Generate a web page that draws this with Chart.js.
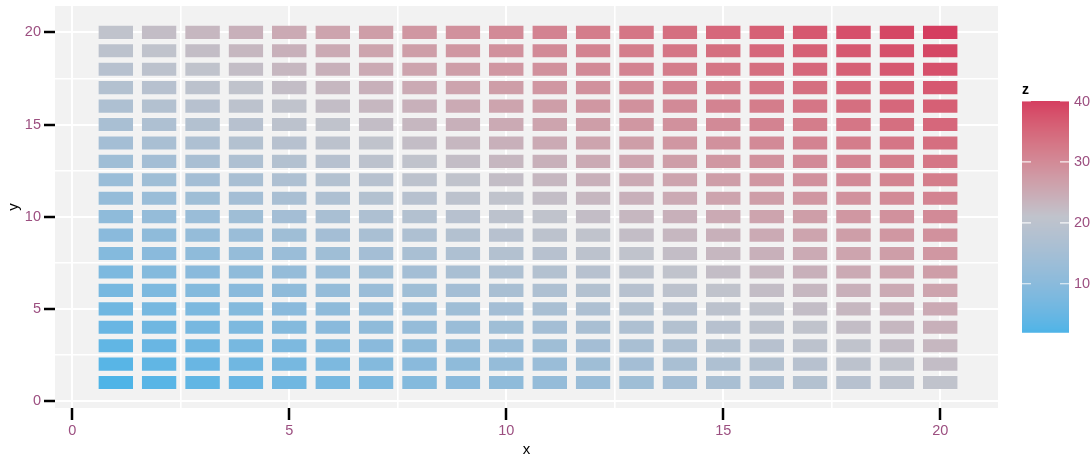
<!DOCTYPE html>
<html><head><meta charset="utf-8">
<script src="https://cdn.jsdelivr.net/npm/chart.js@4"></script>
<style>html,body{margin:0;padding:0;background:#fff}</style>
</head><body>
<canvas id="c" width="1092" height="457"></canvas>
<script>
const xValues = [1,2,3,4,5,6,7,8,9,10,11,12,13,14,15,16,17,18,19,20];
const yValues = [1,2,3,4,5,6,7,8,9,10,11,12,13,14,15,16,17,18,19,20];
// one row per y value, one entry per x value
const zValues = [
  [2,3,4,5,6,7,8,9,10,11,12,13,14,15,16,17,18,19,20,21],
  [3,4,5,6,7,8,9,10,11,12,13,14,15,16,17,18,19,20,21,22],
  [4,5,6,7,8,9,10,11,12,13,14,15,16,17,18,19,20,21,22,23],
  [5,6,7,8,9,10,11,12,13,14,15,16,17,18,19,20,21,22,23,24],
  [6,7,8,9,10,11,12,13,14,15,16,17,18,19,20,21,22,23,24,25],
  [7,8,9,10,11,12,13,14,15,16,17,18,19,20,21,22,23,24,25,26],
  [8,9,10,11,12,13,14,15,16,17,18,19,20,21,22,23,24,25,26,27],
  [9,10,11,12,13,14,15,16,17,18,19,20,21,22,23,24,25,26,27,28],
  [10,11,12,13,14,15,16,17,18,19,20,21,22,23,24,25,26,27,28,29],
  [11,12,13,14,15,16,17,18,19,20,21,22,23,24,25,26,27,28,29,30],
  [12,13,14,15,16,17,18,19,20,21,22,23,24,25,26,27,28,29,30,31],
  [13,14,15,16,17,18,19,20,21,22,23,24,25,26,27,28,29,30,31,32],
  [14,15,16,17,18,19,20,21,22,23,24,25,26,27,28,29,30,31,32,33],
  [15,16,17,18,19,20,21,22,23,24,25,26,27,28,29,30,31,32,33,34],
  [16,17,18,19,20,21,22,23,24,25,26,27,28,29,30,31,32,33,34,35],
  [17,18,19,20,21,22,23,24,25,26,27,28,29,30,31,32,33,34,35,36],
  [18,19,20,21,22,23,24,25,26,27,28,29,30,31,32,33,34,35,36,37],
  [19,20,21,22,23,24,25,26,27,28,29,30,31,32,33,34,35,36,37,38],
  [20,21,22,23,24,25,26,27,28,29,30,31,32,33,34,35,36,37,38,39],
  [21,22,23,24,25,26,27,28,29,30,31,32,33,34,35,36,37,38,39,40]
];
const xGridValues = [0,2.5,5,7.5,10,12.5,15,17.5,20];
const yGridValues = [0,2.5,5,7.5,10,12.5,15,17.5,20];
const xTickLabels = ['0','5','10','15','20'];
const yTickLabels = ['0','5','10','15','20'];
const legendTickValues = [10,20,30,40];
const legendTickLabels = ['10','20','30','40'];
const zLimits = [2,40];
const zMidpoint = 21;
const lowColour = '#4EB4E7', midColour = '#C0C3CC', highColour = '#D53D60';

// ---- Lab colour interpolation (like scales::div_gradient_pal) ----
function hex2rgb(h){h=h.replace('#','');return [0,2,4].map(i=>parseInt(h.substr(i,2),16)/255);}
function lin(c){return c<=0.04045?c/12.92:Math.pow((c+0.055)/1.055,2.4);}
function gam(c){c=c<=0.0031308?12.92*c:1.055*Math.pow(c,1/2.4)-0.055;return Math.max(0,Math.min(1,c));}
const WX=0.95047,WY=1,WZ=1.08883;
function rgb2lab(rgb){const [r,g,b]=rgb.map(lin);
  const X=(r*0.4124564+g*0.3575761+b*0.1804375)/WX,Y=(r*0.2126729+g*0.7151522+b*0.0721750)/WY,Z=(r*0.0193339+g*0.1191920+b*0.9503041)/WZ;
  const f=t=>t>0.008856?Math.cbrt(t):(7.787*t+16/116);
  const fx=f(X),fy=f(Y),fz=f(Z);return [116*fy-16,500*(fx-fy),200*(fy-fz)];}
function lab2rgb(lab){const fy=(lab[0]+16)/116,fx=fy+lab[1]/500,fz=fy-lab[2]/200;
  const fi=t=>t*t*t>0.008856?t*t*t:(t-16/116)/7.787;
  const X=fi(fx)*WX,Y=fi(fy)*WY,Z=fi(fz)*WZ;
  const r=X*3.2404542-Y*1.5371385-Z*0.4985314,g=-X*0.9692660+Y*1.8760108+Z*0.0415560,b=X*0.0556434-Y*0.2040259+Z*1.0572252;
  return [r,g,b].map(gam);}
const LOW=rgb2lab(hex2rgb(lowColour)),MID=rgb2lab(hex2rgb(midColour)),HIGH=rgb2lab(hex2rgb(highColour));
function colourFor(z){
  const span=Math.max(zMidpoint-zLimits[0],zLimits[1]-zMidpoint);
  let t=0.5+(z-zMidpoint)/(2*span);t=Math.max(0,Math.min(1,t));
  let a,b,u;if(t<0.5){a=LOW;b=MID;u=t/0.5;}else{a=MID;b=HIGH;u=(t-0.5)/0.5;}
  const lab=a.map((v,i)=>v+(b[i]-v)*u);const rgb=lab2rgb(lab);
  return 'rgb('+rgb.map(v=>Math.round(v*255)).join(',')+')';}

const FONT='"Liberation Sans", Arial, sans-serif';
const LABEL_COL='#9C4F80';

const datasets = yValues.map((yv,r)=>({
  data: xValues.map(xv=>({x:xv, y:[yv-0.41, yv+0.41]})),
  backgroundColor: zValues[r].map(colourFor),
  borderColor: 'rgba(255,255,255,0.18)',
  borderWidth: {top:1,bottom:1,left:0,right:0},
  borderSkipped: false,
  barPercentage: 0.8,
  categoryPercentage: 1,
  grouped: false
}));

const panelBg = {
  id:'panelBg',
  beforeDraw(chart){const {ctx,chartArea:a}=chart;ctx.save();ctx.fillStyle='#F2F2F2';
    ctx.fillRect(a.left,a.top,a.right-a.left,a.bottom-a.top);ctx.restore();}
};

const colourbar = {
  id:'colourbar',
  afterDraw(chart){
    const ctx=chart.ctx;const L=1022,R=1069,T=101,B=332.5;
    const pix=z=>T+(zLimits[1]-z)/(zLimits[1]-zLimits[0])*(B-T);
    ctx.save();
    for(let y=T;y<B;y+=1){const z=zLimits[1]-(y+0.5-T)/(B-T)*(zLimits[1]-zLimits[0]);
      ctx.fillStyle=colourFor(z);ctx.fillRect(L,y,R-L,Math.min(1,B-y)+0.2);}
    ctx.strokeStyle='rgba(255,255,255,0.85)';ctx.lineWidth=1.2;
    ctx.font='14.5px '+FONT;ctx.fillStyle=LABEL_COL;ctx.textAlign='left';ctx.textBaseline='middle';
    legendTickValues.forEach((v,i)=>{const y=pix(v);
      ctx.beginPath();ctx.moveTo(L,y);ctx.lineTo(L+9,y);ctx.moveTo(R-9,y);ctx.lineTo(R,y);ctx.stroke();
      ctx.fillText(legendTickLabels[i],1074,y+0.5);});
    ctx.fillStyle='#000';ctx.font='bold 14px '+FONT;ctx.textBaseline='alphabetic';
    ctx.fillText('z',1022,94);
    ctx.restore();
  }
};

function isMajor(v){return Math.abs(v/5-Math.round(v/5))<1e-9;}

new Chart(document.getElementById('c'),{
  type:'bar',
  data:{datasets},
  options:{
    responsive:false,animation:false,
    layout:{padding:{left:0,top:6,right:94,bottom:0}},
    plugins:{legend:{display:false},tooltip:{enabled:false}},
    scales:{
      x:{type:'linear',min:-0.4,max:21.33,offset:false,
        afterBuildTicks(s){s.ticks=xGridValues.map(v=>({value:v}));},
        afterFit(s){s.height=49;s.paddingLeft=0;s.paddingRight=0;},
        border:{display:false},
        grid:{offset:false,color:'#FFFFFF',lineWidth:c=>isMajor(c.tick.value)?2:1.6,
          tickColor:c=>isMajor(c.tick.value)?'#000':'rgba(0,0,0,0)',tickWidth:2.5,tickLength:12},
        ticks:{autoSkip:false,maxRotation:0,padding:2,color:LABEL_COL,font:{family:FONT,size:14.5},
          callback:v=>isMajor(v)?xTickLabels[Math.round(v/5)]:''},
        title:{display:true,text:'x',color:'#000',font:{family:FONT,size:15,lineHeight:1},padding:{top:0,bottom:-0.5}}
      },
      y:{type:'linear',min:-0.38,max:21.43,
        afterBuildTicks(s){s.ticks=yGridValues.map(v=>({value:v}));},
        afterFit(s){s.width=55;s.paddingTop=0;s.paddingBottom=0;},
        border:{display:false},
        grid:{color:'#FFFFFF',lineWidth:c=>isMajor(c.tick.value)?2:1.6,
          tickColor:c=>isMajor(c.tick.value)?'#000':'rgba(0,0,0,0)',tickWidth:2.5,tickLength:11},
        ticks:{autoSkip:false,padding:3,color:LABEL_COL,font:{family:FONT,size:14.5},
          callback:v=>isMajor(v)?yTickLabels[Math.round(v/5)]:''},
        title:{display:true,text:'y',color:'#000',font:{family:FONT,size:15,lineHeight:1},padding:{top:6,bottom:0}}
      }
    }
  },
  plugins:[panelBg,colourbar]
});
</script>
</body></html>
